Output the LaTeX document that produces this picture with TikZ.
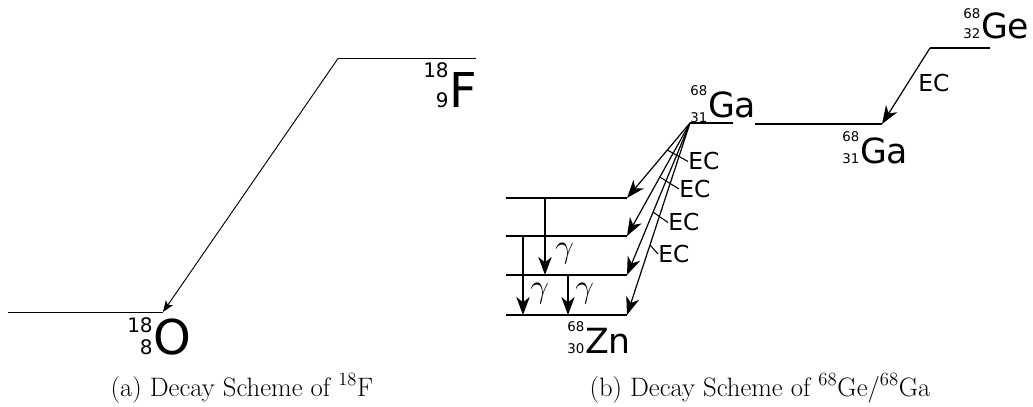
\documentclass[tikz,border=0pt]{standalone}
\usepackage{fontspec}
\newfontfamily\dejavu{DejaVu Sans}
\usetikzlibrary{arrows.meta,calc}
\newcommand\nucl[7]{%
  \lower#7\vbox{\fontsize{#5}{#6}\selectfont\halign{\hfil##\cr#1\cr#2\cr}}%
  \kern0.6pt{\fontsize{#4}{#4}\selectfont#3}}
\tikzset{
  nuc/.style={font=\dejavu, inner sep=0pt, anchor=base west},
  eclab/.style={font=\dejavu\fontsize{17.5}{17.5}\selectfont, inner sep=0pt, anchor=west},
  gam/.style={font=\fontsize{25}{29}\selectfont, inner sep=0pt, anchor=base west},
  lvla/.style={line width=0.7pt},
  lvlb/.style={line width=0.9pt},
  arra/.style={lvla,-{Stealth[length=8.5pt,width=6.5pt,inset=2pt]}},
  arrb/.style={lvlb,-{Stealth[length=13.5pt,width=10pt,inset=4pt]}},
  ectick/.style={line width=0.8pt},
  capt/.style={font=\fontsize{20}{24}\selectfont, inner sep=0pt, anchor=base},
}
\begin{document}
\begin{tikzpicture}[x=0.75pt,y=-0.75pt]
\useasboundingbox (0,0) rectangle (1033,407);
% ---------- (a) 18F ----------
\coordinate (Fl) at (338,58.5);
\coordinate (Fr) at (476,58.5);
\coordinate (Ol) at (8,312);
\coordinate (Or) at (163,312);
\draw[lvla] (Fl) -- (Fr);
\draw[lvla] (Ol) -- (Or);
\draw[arra] (Fl) -- (Or);
\node[nuc] (F) at (423,107) {\nucl{18}{9}{F}{36pt}{15pt}{23pt}{0.7pt}};
\node[nuc] (O) at (127,354) {\nucl{18}{8}{O}{36pt}{15pt}{17pt}{0.7pt}};
% ---------- (b) 68Ge / 68Ga ----------
\coordinate (GaL) at (690,123);
\coordinate (GaLe) at (733,123);
\coordinate (GaRs) at (755,124);
\coordinate (GaR) at (882,124);
\coordinate (Ges) at (930,48);
\coordinate (Gee) at (990,48);
\draw[lvlb] (GaL) -- (GaLe);
\draw[lvlb] (GaRs) -- (GaR);
\draw[lvlb] (Ges) -- (Gee);
\draw[arrb] (Ges) -- (GaR);
\node[eclab] (ECge) at (918,83.5) {EC};
\node[nuc] (Ge) at (963,38) {\nucl{68}{32}{Ge}{26pt}{10pt}{15pt}{0pt}};
\node[nuc] (Ga2) at (842,163) {\nucl{68}{31}{Ga}{26pt}{10pt}{16pt}{0pt}};
\node[nuc] (Ga1) at (690,117.5) {\nucl{68}{31}{Ga}{26pt}{10pt}{20pt}{3.7pt}};
% Zn levels
\foreach \i/\y in {1/198,2/236,3/275,4/315}{
  \coordinate (L\i a) at (506,\y);
  \coordinate (L\i b) at (627,\y);
  \draw[lvlb] (L\i a) -- (L\i b);
}
\node[nuc] (Zn) at (567,353) {\nucl{68}{30}{Zn}{26pt}{10pt}{16pt}{0pt}};
% EC branches
\draw[arrb] (GaL) -- coordinate[pos=0.36] (t1) (L1b);
\draw[arrb] (GaL) -- coordinate[pos=0.478] (t2) (L2b);
\draw[arrb] (GaL) -- coordinate[pos=0.586] (t3) (L3b);
\draw[arrb] (GaL) -- coordinate[pos=0.635] (t4) (L4b);
\node[eclab] (EC1) at (688,161.5) {EC};
\node[eclab] (EC2) at (679,189) {EC};
\node[eclab] (EC3) at (668,222.5) {EC};
\node[eclab] (EC4) at (658,254) {EC};
\draw[ectick] (t1) -- (EC1.west);
\draw[ectick] (t2) -- (EC2.west);
\draw[ectick] (t3) -- (EC3.west);
\draw[ectick] (t4) -- (EC4.west);
% gamma transitions
\coordinate (g1s) at (545,198); \coordinate (g1e) at (545,275);
\coordinate (g2s) at (523,236); \coordinate (g2e) at (523,315);
\coordinate (g3s) at (568,275); \coordinate (g3e) at (568,315);
\draw[arrb] (g1s) -- (g1e);
\draw[arrb] (g2s) -- (g2e);
\draw[arrb] (g3s) -- (g3e);
\node[gam] (gam1) at (555,257) {$\gamma$};
\node[gam] (gam2) at (530,297) {$\gamma$};
\node[gam] (gam3) at (575,297) {$\gamma$};
% captions
\node[capt] (capa) at (242,396) {(a) Decay Scheme of \textsuperscript{18}F};
\node[capt] (capb) at (760,396) {(b) Decay Scheme of \textsuperscript{68}Ge/\textsuperscript{68}Ga};
\end{tikzpicture}
\end{document}
